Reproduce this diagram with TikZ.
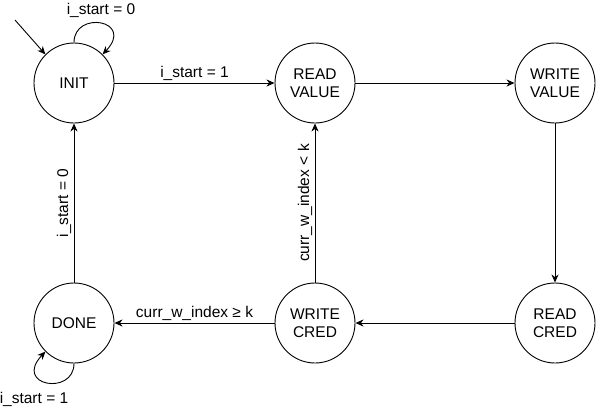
\documentclass[tikz,border=0pt]{standalone}
\usepackage{fontspec}
\setmainfont{Liberation Sans}
\usetikzlibrary{automata,arrows.meta}

\begin{document}
\begin{tikzpicture}[x=1pt,y=-1pt,line width=0.9pt,
        >={Stealth[length=8pt,width=7pt,inset=2.5pt]},
        every node/.style={font=\fontsize{15.5}{18}\selectfont},
        st/.style={state,minimum size=80pt,inner sep=0pt,align=center,line width=0.9pt}]
        \useasboundingbox (0,0) rectangle (596,410);
        \node[st] (init) at (74,83) {INIT};
        \node[st] (readval) at (315,83) {READ\\VALUE};
        \node[st] (writeval) at (555,83) {WRITE\\VALUE};
        \node[st] (done) at (74,323) {DONE};
        \node[st] (writecred) at (315,323) {WRITE\\CRED};
        \node[st] (readcred) at (555,323) {READ\\CRED};
        \coordinate (entry) at (15,20);
        \draw[->] (entry) -- (init.135);
        \draw[->] (init.90) .. controls (74,10) and (135,20) .. (init.45);
        \node (loopa) at (101,10) {i\_start = 0};
        \draw[->] (done.270) .. controls (74,396) and (13,386) .. (done.225);
        \node (loopb) at (34,399) {i\_start = 1};
        \draw[->] (init) -- node[above=-1pt] (lbla) {i\_start = 1} (readval);
        \draw[->] (readval) -- (writeval);
        \draw[->] (writeval) -- (readcred);
        \draw[->] (readcred) -- (writecred);
        \draw[->] (writecred) -- node[above=-1pt] (lblb) {curr\_w\_index ≥ k} (done);
        \draw[->] (writecred) -- node[above=-1pt,sloped] (lblc) {curr\_w\_index < k} (readval);
        \draw[->] (done) -- node[above=-1pt,sloped] (lbld) {i\_start = 0} (init);
    \end{tikzpicture}
\end{document}
